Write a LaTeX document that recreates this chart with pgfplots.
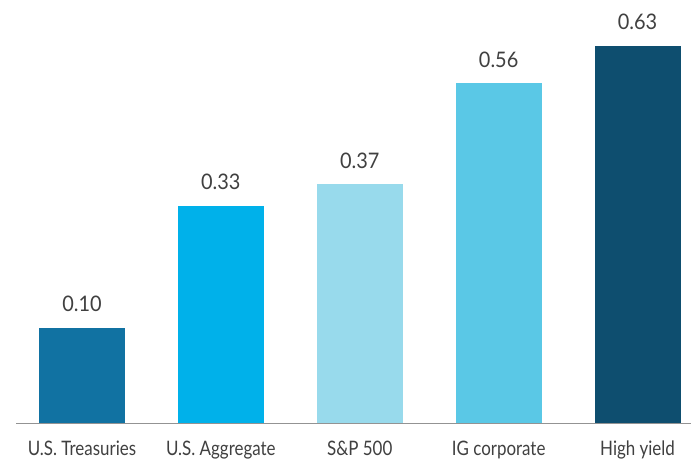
\documentclass[border=0pt]{standalone}
\usepackage{pgfplots}
\pgfplotsset{compat=1.18}
\usepackage{pgfplotstable}
\usepackage{fontspec}
\setmainfont{Lato}
\newfontfamily\tickfont{Lato}[FakeStretch=0.85]
\newfontfamily\valfont{Lato}[FakeStretch=0.93]
\definecolor{c1}{HTML}{1172A2}
\definecolor{c2}{HTML}{00B1EA}
\definecolor{c3}{HTML}{98DAEC}
\definecolor{c4}{HTML}{5AC8E6}
\definecolor{c5}{HTML}{0E4E6F}
\definecolor{txt}{HTML}{404040}
\pgfplotstableread{
x v
0 0.10
}\ta
\pgfplotstableread{
x v
1 0.33
}\tb
\pgfplotstableread{
x v
2 0.37
}\tc
\pgfplotstableread{
x v
3 0.56
}\td
\pgfplotstableread{
x v
4 0.63
}\te
\begin{document}
\begin{tikzpicture}
\useasboundingbox (0,0) rectangle (691bp,460bp);
\begin{axis}[
  at={(16bp,37bp)}, anchor=south west,
  scale only axis, width=675bp, height=423bp,
  xmin=-0.475, xmax=4.385, ymin=0, ymax=0.795,
  ybar, bar width=86bp, bar shift=0pt,
  hide y axis, axis x line*=bottom,
  axis line style={-, draw=gray!85, line width=1bp},
  xtick={0,1,2,3,4},
  xticklabels={U.S. Treasuries, U.S. Aggregate, S\&P 500, IG corporate, High yield},
  xtick style={draw=none},
  xticklabel style={font=\tickfont\fontsize{20}{24}\selectfont, text=txt, anchor=base, inner sep=0pt, yshift=-28bp},
  nodes near coords, point meta=explicit,
  nodes near coords style={font=\valfont\fontsize{21.5}{24}\selectfont, text=txt, anchor=base, yshift=16bp,
    /pgf/number format/.cd, fixed, fixed zerofill, precision=2, assume math mode=true},
  clip=false,
]
\addplot[fill=c1, draw=none] table[x=x, y expr=\thisrow{v}+0.0786, meta=v] {\ta};
\addplot[fill=c2, draw=none] table[x=x, y expr=\thisrow{v}+0.0786, meta=v] {\tb};
\addplot[fill=c3, draw=none] table[x=x, y expr=\thisrow{v}+0.0786, meta=v] {\tc};
\addplot[fill=c4, draw=none] table[x=x, y expr=\thisrow{v}+0.0786, meta=v] {\td};
\addplot[fill=c5, draw=none] table[x=x, y expr=\thisrow{v}+0.0786, meta=v] {\te};
\end{axis}
\end{tikzpicture}
\end{document}
